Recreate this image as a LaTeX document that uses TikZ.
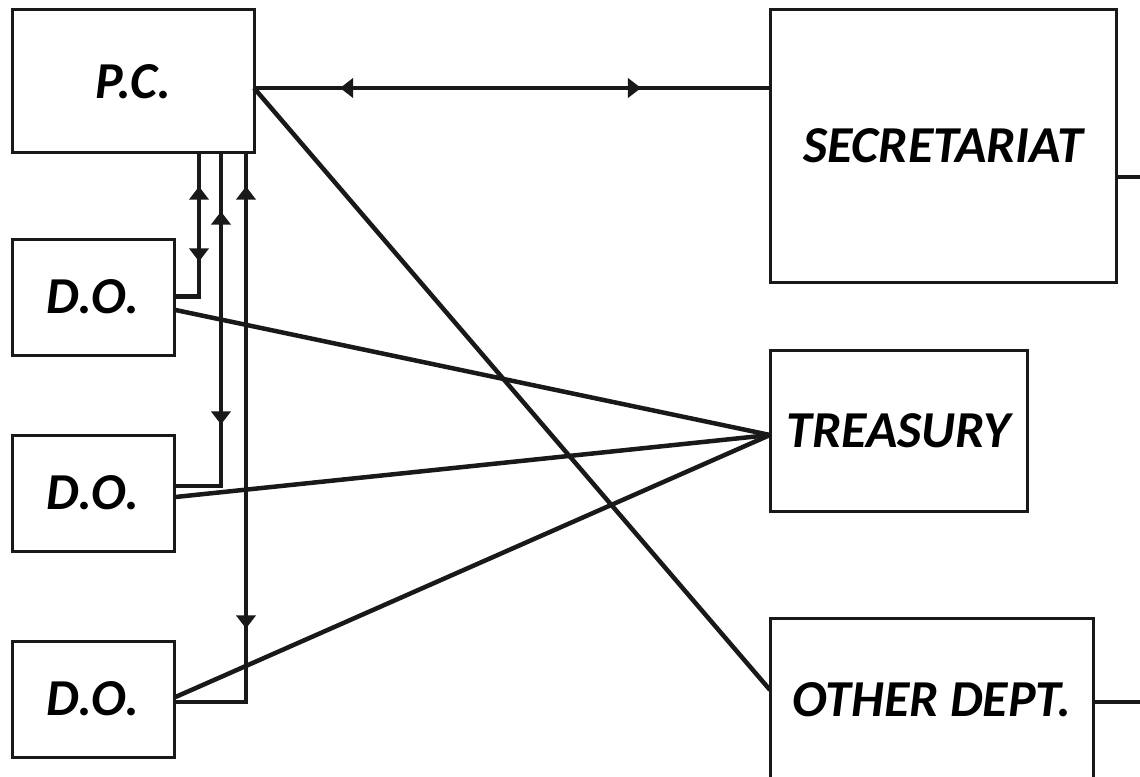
\documentclass[tikz,border=0pt]{standalone}
\usepackage{fontspec}
\setmainfont{Carlito}
\usetikzlibrary{arrows.meta,decorations.markings}

\newlength{\du}
\setlength{\du}{0.02cm}

\tikzset{
  office/.style={draw=black!90, line width=3\du, rectangle, inner sep=0pt,
    font=\fontsize{29.5}{30}\selectfont\bfseries\itshape},
  wire/.style={draw=black!90, line width=4.5\du},
  marks/.style={postaction={decorate}, decoration={markings, #1}}
}
\newcommand{\headtip}{Triangle[length=7.5pt,width=11pt]}

\begin{document}
\begin{tikzpicture}[x=1\du, y=-1\du]
\useasboundingbox (0,0) rectangle (1140,777);

% offices
\node[office, minimum width=242\du, minimum height=143\du] (pc) at (133,81.5) {P.C.};
\node[office, minimum width=346\du, minimum height=272\du] (sec) at (943,146) {SECRETARIAT};
\node[office, minimum width=257\du, minimum height=161\du] (tre) at (898.5,430.5) {TREASURY};
\node[office, minimum width=323\du, minimum height=164\du] (oth) at (931.5,700) {OTHER DEPT.};
\node[office, minimum width=162\du, minimum height=116\du] (doa) at (93,297) {D.O.};
\node[office, minimum width=162\du, minimum height=116\du] (dob) at (93,493) {D.O.};
\node[office, minimum width=162\du, minimum height=116\du] (doc) at (93,699) {D.O.};

% points the wires run through
\coordinate (pcout) at (254,88);
\coordinate (trein) at (770,435);
\coordinate (othin) at (770,690);
\coordinate (ka) at (199,296.5);
\coordinate (kb) at (221,486);
\coordinate (kc) at (246,702);
\coordinate (secend) at (1140,177);
\coordinate (othend) at (1140,702);

% P.C. -- secretariat
\draw[wire, marks={mark=at position 86\du with {\arrowreversed{\headtip}},
  mark=at position 387\du with {\arrow{\headtip}}}]
  (pcout) -- (sec.west |- pcout);
\draw[wire] (pcout) -- (othin);

% P.C. -- district offices
\draw[wire, marks={mark=at position 32\du with {\arrowreversed{\headtip}},
  mark=at position 107\du with {\arrow{\headtip}}}]
  (pc.south -| ka) -- (ka) -- (doa.east |- ka);
\draw[wire, marks={mark=at position 57\du with {\arrowreversed{\headtip}},
  mark=at position 270\du with {\arrow{\headtip}}}]
  (pc.south -| kb) -- (kb) -- (dob.east |- kb);
\draw[wire, marks={mark=at position 32\du with {\arrowreversed{\headtip}},
  mark=at position 474\du with {\arrow{\headtip}}}]
  (pc.south -| kc) -- (kc) -- (doc.east |- kc);

% district offices -- treasury
\draw[wire] ([yshift=-13\du]doa.east) -- (trein);
\draw[wire] ([yshift=-4\du]dob.east) -- (trein);
\draw[wire] ([yshift=2\du]doc.east) -- (trein);

% leads off the page
\draw[wire] (sec.east |- secend) -- (secend);
\draw[wire] (oth.east |- othend) -- (othend);
\end{tikzpicture}
\end{document}
